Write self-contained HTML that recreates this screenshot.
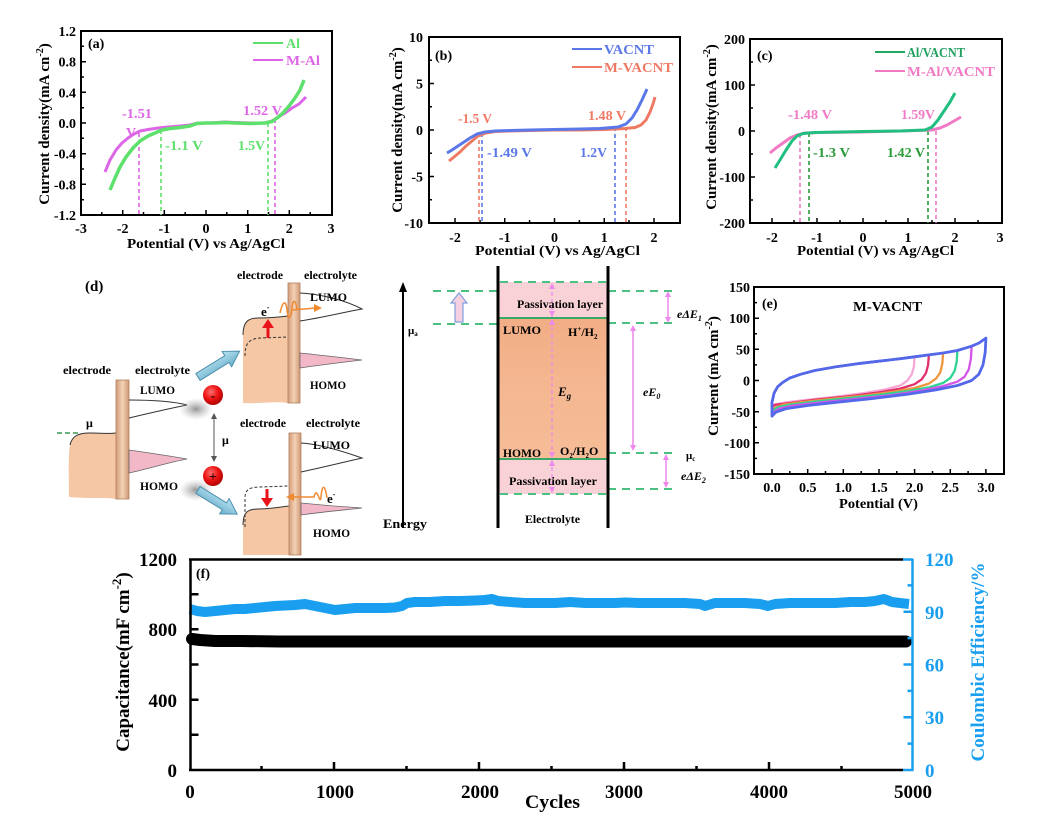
<!DOCTYPE html>
<html><head><meta charset="utf-8"><style>
html,body{margin:0;padding:0;background:#fff;}
svg{display:block;}
text{font-family:"Liberation Serif",serif;font-weight:bold;}
</style></head><body>
<svg width="1061" height="823" viewBox="0 0 1061 823" xmlns="http://www.w3.org/2000/svg">
<defs>
<linearGradient id="bar" x1="0" x2="1" y1="0" y2="0"><stop offset="0" stop-color="#d39c7a"/><stop offset="0.5" stop-color="#f3d2b6"/><stop offset="1" stop-color="#cf9774"/></linearGradient>
<radialGradient id="red" cx="0.4" cy="0.35" r="0.7"><stop offset="0" stop-color="#ff7070"/><stop offset="0.5" stop-color="#ee1515"/><stop offset="1" stop-color="#a80000"/></radialGradient>
<radialGradient id="shd"><stop offset="0" stop-color="#8a8a8a" stop-opacity="0.9"/><stop offset="1" stop-color="#bbb" stop-opacity="0"/></radialGradient>
<linearGradient id="barr" x1="0" x2="0" y1="0" y2="1"><stop offset="0" stop-color="#b9e4f2"/><stop offset="1" stop-color="#6aaecb"/></linearGradient>
<linearGradient id="eg" x1="0" x2="0" y1="0" y2="1"><stop offset="0" stop-color="#f2ad85"/><stop offset="0.5" stop-color="#f4b791"/><stop offset="1" stop-color="#f5bd98"/></linearGradient>
</defs>
<rect width="1061" height="823" fill="#fff"/>

<!-- ================= PANEL A ================= -->
<g>
<rect x="81" y="31" width="251" height="184" fill="none" stroke="#000" stroke-width="2"/>
<g stroke="#000" stroke-width="1.5">
<path d="M122.7,215v-5M164.3,215v-5M206,215v-5M247.7,215v-5M289.3,215v-5"/>
<path d="M101.8,215v-3M143.5,215v-3M185.2,215v-3M226.8,215v-3M268.5,215v-3M310.2,215v-3"/>
<path d="M81,61.7h5M81,92.3h5M81,123h5M81,153.7h5M81,184.3h5"/>
<path d="M81,46.3h3M81,77h3M81,107.7h3M81,138.3h3M81,169h3M81,199.7h3"/>
</g>
<g font-size="14" text-anchor="end">
<text x="76" y="36">1.2</text><text x="76" y="66.7">0.8</text><text x="76" y="97.3">0.4</text><text x="76" y="128">0.0</text><text x="76" y="158.7">-0.4</text><text x="76" y="189.3">-0.8</text><text x="76" y="220">-1.2</text>
</g>
<g font-size="14" text-anchor="middle">
<text x="81" y="233">-3</text><text x="122.7" y="233">-2</text><text x="164.3" y="233">-1</text><text x="206" y="233">0</text><text x="247.7" y="233">1</text><text x="289.3" y="233">2</text><text x="331" y="233">3</text>
</g>
<text x="127" y="248" font-size="14" textLength="158" lengthAdjust="spacingAndGlyphs">Potential (V) vs Ag/AgCl</text>
<text transform="translate(49,124) rotate(-90)" font-size="15" text-anchor="middle">Current density(mA cn<tspan font-size="10" dy="-6">-2</tspan><tspan dy="6">)</tspan></text>
<text x="88" y="48" font-size="14">(a)</text>
<!-- dashed -->
<g stroke-width="1.6" stroke-dasharray="4 3" fill="none">
<path d="M139,133V215" stroke="#dd66e6"/><path d="M161,130V215" stroke="#5ee06c"/>
<path d="M268,123V215" stroke="#5ee06c"/><path d="M275,119V215" stroke="#dd66e6"/>
</g>
<polyline fill="none" stroke="#dd66e6" stroke-width="3" stroke-linejoin="round" points="105,172 110,160 116,150 122,143 128,138 134,134 140,131 148,129.5 158,128 168,127 180,126 190,125 198,123 210,123 225,122 235,122.5 250,123 265,123 272,121 277,118 285,113 292,108 299,104 306,97"/>
<polyline fill="none" stroke="#5ee06c" stroke-width="3.5" stroke-linejoin="round" points="110,190 115,178 120,167 126,157 133,148 140,141 148,136 155,133 162,130 170,128.5 180,127.5 190,126 197,123.5 205,123 215,123 225,122.5 235,123 250,123.5 265,123 272,121.5 277,118 283,113 289,106 295,98 300,90 304,80"/>
<line x1="253" y1="43" x2="283" y2="43" stroke="#5ee06c" stroke-width="2"/>
<text x="286" y="48" font-size="14" fill="#5ee06c">Al</text>
<line x1="253" y1="60" x2="283" y2="60" stroke="#dd66e6" stroke-width="2"/>
<text x="286" y="65" font-size="14" fill="#dd66e6" textLength="34" lengthAdjust="spacingAndGlyphs">M-Al</text>
<text x="122" y="118" font-size="14" fill="#dd66e6" textLength="30" lengthAdjust="spacingAndGlyphs">-1.51</text>
<text x="126" y="137" font-size="14" fill="#dd66e6">V</text>
<text x="165" y="150" font-size="14" fill="#5ee06c" textLength="38" lengthAdjust="spacingAndGlyphs">-1.1 V</text>
<text x="238" y="150" font-size="14" fill="#5ee06c" textLength="27" lengthAdjust="spacingAndGlyphs">1.5V</text>
<text x="243" y="115" font-size="14" fill="#dd66e6" textLength="39" lengthAdjust="spacingAndGlyphs">1.52 V</text>
</g>

<!-- ================= PANEL B ================= -->
<g>
<rect x="429" y="37" width="251" height="186" fill="none" stroke="#000" stroke-width="2"/>
<g stroke="#000" stroke-width="1.5">
<path d="M455,223v-5M504.75,223v-5M554.5,223v-5M604.25,223v-5M654,223v-5"/>
<path d="M480,223v-3M529.6,223v-3M579.4,223v-3M629,223v-3"/>
<path d="M429,83.5h5M429,130h5M429,176.5h5"/>
<path d="M429,60.25h3M429,106.75h3M429,153.25h3M429,199.75h3"/>
</g>
<g font-size="14" text-anchor="end">
<text x="423" y="42">10</text><text x="423" y="88.5">5</text><text x="423" y="135">0</text><text x="423" y="181.5">-5</text><text x="423" y="228">-10</text>
</g>
<g font-size="14" text-anchor="middle">
<text x="455" y="242">-2</text><text x="504.75" y="242">-1</text><text x="554.5" y="242">0</text><text x="604.25" y="242">1</text><text x="654" y="242">2</text>
</g>
<text x="475" y="255" font-size="14" textLength="165" lengthAdjust="spacingAndGlyphs">Potential (V) vs Ag/AgCl</text>
<text transform="translate(402,130) rotate(-90)" font-size="15" text-anchor="middle">Current density(mA cm<tspan font-size="10" dy="-6">-2</tspan><tspan dy="6">)</tspan></text>
<text x="435" y="60" font-size="14">(b)</text>
<g stroke-width="1.6" stroke-dasharray="4 3" fill="none">
<path d="M479,133V223" stroke="#ef7a64"/><path d="M482,133V223" stroke="#5b78e8"/>
<path d="M615,127V223" stroke="#5b78e8"/><path d="M626,127V223" stroke="#ef7a64"/>
</g>
<polyline fill="none" stroke="#ef7a64" stroke-width="3" stroke-linejoin="round" points="449,161 454,157 460,152 466,146 472,141 478,136 486,133 495,131.5 510,131 530,130.5 554,130 580,130 605,129.5 625,128.5 635,127.5 641,125 646,120 650,112 653,104 655,97"/>
<polyline fill="none" stroke="#5b78e8" stroke-width="3" stroke-linejoin="round" points="447,153 452,150 458,146 464,142 470,138 477,134 485,132 495,131 510,130.5 530,130 554,129.5 580,129 600,128.5 618,127 626,124 632,118 637,110 642,100 647,89"/>
<line x1="572" y1="49" x2="602" y2="49" stroke="#5b78e8" stroke-width="2"/>
<text x="604" y="54" font-size="14" fill="#5b78e8" textLength="50" lengthAdjust="spacingAndGlyphs">VACNT</text>
<line x1="572" y1="67" x2="602" y2="67" stroke="#ef7a64" stroke-width="2"/>
<text x="604" y="72" font-size="14" fill="#ef7a64" textLength="69" lengthAdjust="spacingAndGlyphs">M-VACNT</text>
<text x="458" y="123" font-size="14" fill="#ef7a64" textLength="34" lengthAdjust="spacingAndGlyphs">-1.5 V</text>
<text x="487" y="157" font-size="14" fill="#5b78e8" textLength="45" lengthAdjust="spacingAndGlyphs">-1.49 V</text>
<text x="580" y="157" font-size="14" fill="#5b78e8" textLength="27" lengthAdjust="spacingAndGlyphs">1.2V</text>
<text x="588" y="120" font-size="14" fill="#ef7a64" textLength="38" lengthAdjust="spacingAndGlyphs">1.48 V</text>
</g>

<!-- ================= PANEL C ================= -->
<g>
<rect x="750" y="39" width="252" height="184" fill="none" stroke="#000" stroke-width="2"/>
<g stroke="#000" stroke-width="1.5">
<path d="M772,223v-5M817,223v-5M863,223v-5M908,223v-5M955,223v-5"/>
<path d="M794,223v-3M840,223v-3M886,223v-3M932,223v-3M978,223v-3"/>
<path d="M750,85h5M750,131h5M750,177h5"/>
<path d="M750,62h3M750,108h3M750,154h3M750,200h3"/>
</g>
<g font-size="14" text-anchor="end">
<text x="745" y="44">200</text><text x="745" y="90">100</text><text x="745" y="136">0</text><text x="745" y="182">-100</text><text x="745" y="228">-200</text>
</g>
<g font-size="14" text-anchor="middle">
<text x="772" y="242">-2</text><text x="817" y="242">-1</text><text x="863" y="242">0</text><text x="908" y="242">1</text><text x="955" y="242">2</text><text x="1000" y="242">3</text>
</g>
<text x="797" y="255" font-size="14" textLength="157" lengthAdjust="spacingAndGlyphs">Potential (V) vs Ag/AgCl</text>
<text transform="translate(716,127) rotate(-90)" font-size="15" text-anchor="middle">Current density(mA cm<tspan font-size="10" dy="-6">-2</tspan><tspan dy="6">)</tspan></text>
<text x="757" y="60" font-size="14">(c)</text>
<g stroke-width="1.6" stroke-dasharray="4 3" fill="none">
<path d="M800,134V223" stroke="#f07ac4"/><path d="M809,133V223" stroke="#2a9a3a"/>
<path d="M928,131V223" stroke="#2a9a3a"/><path d="M936,131V223" stroke="#f07ac4"/>
</g>
<polyline fill="none" stroke="#f07ac4" stroke-width="3" stroke-linejoin="round" points="770,153 776,148 783,143 790,138 797,135 805,133 820,132.5 860,132 900,131 932,130 940,128 947,125 954,121 961,117"/>
<polyline fill="none" stroke="#20bf80" stroke-width="3" stroke-linejoin="round" points="775,168 780,160 786,150 792,141 797,136 803,133.5 815,132.5 840,132 863,131.5 900,131 925,130 932,127 938,120 944,111 950,102 955,93"/>
<line x1="875" y1="52" x2="905" y2="52" stroke="#20a860" stroke-width="2"/>
<text x="907" y="57" font-size="14" fill="#22a060" textLength="58" lengthAdjust="spacingAndGlyphs">Al/VACNT</text>
<line x1="875" y1="71" x2="905" y2="71" stroke="#f07ac4" stroke-width="2"/>
<text x="907" y="76" font-size="14" fill="#f07ac4" textLength="88" lengthAdjust="spacingAndGlyphs">M-Al/VACNT</text>
<text x="788" y="119" font-size="14" fill="#f07ac4" textLength="44" lengthAdjust="spacingAndGlyphs">-1.48 V</text>
<text x="813" y="157" font-size="14" fill="#2a9a3a" textLength="37" lengthAdjust="spacingAndGlyphs">-1.3 V</text>
<text x="887" y="157" font-size="14" fill="#2a9a3a" textLength="38" lengthAdjust="spacingAndGlyphs">1.42 V</text>
<text x="901" y="119" font-size="14" fill="#f07ac4" textLength="34" lengthAdjust="spacingAndGlyphs">1.59V</text>
</g>

<!-- ================= PANEL D (left schematic) ================= -->
<g>
<text x="85" y="291" font-size="15">(d)</text>
<!-- diagram 1 -->
<text x="63" y="374" font-size="12" textLength="48" lengthAdjust="spacingAndGlyphs">electrode</text>
<text x="135" y="374" font-size="12" textLength="55" lengthAdjust="spacingAndGlyphs">electrolyte</text>
<path d="M69,497 C69,480 68,455 70,445 C72,436 78,433 90,433 C100,433 110,434 116,433 L116,499 C105,497 90,499 69,497 Z" fill="#f6c7a4"/>
<path d="M70,445 C72,436 78,433 90,433 C100,433 110,434 116,433" stroke="#333" fill="none" stroke-width="1"/>
<line x1="57" y1="433" x2="80" y2="433" stroke="#3a9a50" stroke-width="1.5" stroke-dasharray="5 3"/>
<text x="86" y="427" font-size="12">μ</text>
<rect x="116" y="380" width="13" height="119" fill="url(#bar)" stroke="#b08060" stroke-width="0.8"/>
<path d="M129,400 C150,400 172,401 187,405 C172,408 150,413 129,418" fill="none" stroke="#333" stroke-width="1"/>
<path d="M129,450 C150,453 170,456 187,459 C170,462 148,469 129,473 Z" fill="#f3b8c8" stroke="#666" stroke-width="0.8"/>
<text x="140" y="394" font-size="12" textLength="35" lengthAdjust="spacingAndGlyphs">LUMO</text>
<text x="140" y="490" font-size="12" textLength="38" lengthAdjust="spacingAndGlyphs">HOMO</text>

<!-- shadows, circles -->
<ellipse cx="196" cy="409" rx="17" ry="11" fill="url(#shd)"/>
<ellipse cx="196" cy="490" rx="17" ry="11" fill="url(#shd)"/>
<circle cx="213" cy="395" r="10" fill="url(#red)"/>
<text x="213" y="400" font-size="14" text-anchor="middle" fill="#300">-</text>
<circle cx="213" cy="476" r="10" fill="url(#red)"/>
<text x="213" y="481" font-size="14" text-anchor="middle" fill="#300">+</text>
<line x1="214" y1="418" x2="214" y2="457" stroke="#555" stroke-width="1"/>
<polygon points="211,419 217,419 214,413" fill="#555"/>
<polygon points="211,456 217,456 214,462" fill="#555"/>
<text x="222" y="444" font-size="12">μ</text>

<!-- blue arrows -->
<polygon transform="translate(198,377) rotate(-31.8)" points="0,-4 34,-4 34,-9 49,0 34,9 34,4 0,4" fill="url(#barr)" stroke="#4d8fae" stroke-width="1"/>
<polygon transform="translate(198,490) rotate(31.6)" points="0,-4 31,-4 31,-9 46,0 31,9 31,4 0,4" fill="url(#barr)" stroke="#4d8fae" stroke-width="1"/>

<!-- diagram 2 (upper right) -->
<text x="237" y="279" font-size="12" textLength="46" lengthAdjust="spacingAndGlyphs">electrode</text>
<text x="304" y="279" font-size="12" textLength="53" lengthAdjust="spacingAndGlyphs">electrolyte</text>
<path d="M243,403 L243,332 C243,322 248,318 258,318 C270,318 280,317 288,316 L288,403 C275,401 258,404 243,403 Z" fill="#f6c7a4"/>
<path d="M243,335 C243,322 248,318 258,318 C270,318 280,317 288,316" fill="none" stroke="#333" stroke-width="1"/>
<path d="M245,356 C245,343 249,339 260,338 L288,337" fill="none" stroke="#333" stroke-width="1" stroke-dasharray="3 2"/>
<rect x="288" y="283" width="12" height="120" fill="url(#bar)" stroke="#b08060" stroke-width="0.8"/>
<rect x="266.5" y="327" width="3" height="11" fill="#e8141a"/>
<polygon points="262,328 274,328 268,319" fill="#e8141a"/>
<path d="M280,313 C283,300 286,300 287,310 C288,320 291,320 292,308 C293,298 296,300 297,310 M292,310 L316,308" fill="none" stroke="#f08a30" stroke-width="1.5"/>
<polygon points="314,304 322,308 314,312" fill="#f08a30"/>
<text x="261" y="316" font-size="13">e<tspan font-size="8" dy="-6">-</tspan></text>
<path d="M300,293 C320,294 345,300 362,309 C345,312 320,318 300,321" fill="none" stroke="#333" stroke-width="1"/>
<path d="M300,353 C320,355 345,358 362,360 C345,362 320,365 300,368 Z" fill="#f3b8c8" stroke="#666" stroke-width="0.8"/>
<text x="310" y="301" font-size="12" textLength="37" lengthAdjust="spacingAndGlyphs">LUMO</text>
<text x="310" y="389" font-size="12" textLength="36" lengthAdjust="spacingAndGlyphs">HOMO</text>

<!-- diagram 3 (lower right) -->
<text x="240" y="427" font-size="12" textLength="46" lengthAdjust="spacingAndGlyphs">electrode</text>
<text x="306" y="427" font-size="12" textLength="54" lengthAdjust="spacingAndGlyphs">electrolyte</text>
<path d="M243,555 L243,522 C243,512 248,509 258,509 C270,509 280,507 289,506 L289,555 Z" fill="#f6c7a4"/>
<path d="M243,525 C243,512 248,509 258,509 C270,509 280,507 289,506" fill="none" stroke="#333" stroke-width="1"/>
<path d="M245,527 L245,498 C245,490 249,487 260,487 L289,486" fill="none" stroke="#333" stroke-width="1" stroke-dasharray="3 2"/>
<rect x="289" y="433" width="12" height="122" fill="url(#bar)" stroke="#b08060" stroke-width="0.8"/>
<rect x="265.5" y="489" width="3" height="10" fill="#e8141a"/>
<polygon points="261,498 273,498 267,507" fill="#e8141a"/>
<path d="M327,498 C325,484 322,484 321,497 C320,507 317,484 314,497 L292,497" fill="none" stroke="#f08a30" stroke-width="1.5"/>
<polygon points="286,497 294,493 294,501" fill="#f08a30"/>
<text x="327" y="503" font-size="13">e<tspan font-size="8" dy="-6">-</tspan></text>
<path d="M301,443 C320,444 345,452 362,458 C345,462 320,468 301,472" fill="none" stroke="#333" stroke-width="1"/>
<path d="M301,503 C320,505 345,507 362,508 C345,510 320,512 301,515 Z" fill="#f3b8c8" stroke="#666" stroke-width="0.8"/>
<text x="313" y="449" font-size="12" textLength="37" lengthAdjust="spacingAndGlyphs">LUMO</text>
<text x="313" y="537" font-size="12" textLength="37" lengthAdjust="spacingAndGlyphs">HOMO</text>
</g>

<!-- ================= PANEL D (energy diagram) ================= -->
<g>
<rect x="498" y="282" width="110" height="36" fill="#f8d2d6"/>
<rect x="498" y="318" width="110" height="141" fill="url(#eg)"/>
<rect x="498" y="459" width="110" height="35" fill="#f8d2d6"/>
<line x1="498" y1="318" x2="608" y2="318" stroke="#3aa866" stroke-width="2"/>
<line x1="498" y1="459" x2="608" y2="459" stroke="#3aa866" stroke-width="2"/>
<g stroke="#4cc080" stroke-width="2" stroke-dasharray="8 6" fill="none">
<path d="M500,282H608M500,494H608"/>
<path d="M433,291H498M433,324H498"/>
<path d="M608,291H672M608,323H672M608,453H672M608,489H672"/>
</g>
<line x1="552" y1="285" x2="552" y2="492" stroke="#ee88ee" stroke-width="1.3" stroke-dasharray="4 3"/>
<g fill="#ee88ee">
<polygon points="549,289 555,289 552,283"/><polygon points="549,311 555,311 552,317"/>
<polygon points="549,325 555,325 552,319"/><polygon points="549,452 555,452 552,458"/>
<polygon points="549,466 555,466 552,460"/><polygon points="549,487 555,487 552,493"/>
</g>
<line x1="498" y1="266" x2="498" y2="528" stroke="#000" stroke-width="3"/>
<line x1="608" y1="266" x2="608" y2="528" stroke="#000" stroke-width="3"/>
<!-- energy arrow -->
<line x1="403" y1="528" x2="403" y2="290" stroke="#000" stroke-width="2"/>
<polygon points="399,292 407,292 403,282" fill="#000"/>
<text x="383" y="528" font-size="13" textLength="44" lengthAdjust="spacingAndGlyphs">Energy</text>
<text x="408" y="334" font-size="11">μ<tspan font-size="7" dy="2">a</tspan></text>
<polygon points="455,322 463,322 463,303 467,303 459,293 451,303 455,303" fill="#f4d0e0" stroke="#80a0dd" stroke-width="1.2"/>
<text x="517" y="308" font-size="12" textLength="86" lengthAdjust="spacingAndGlyphs">Passivation layer</text>
<text x="509" y="485" font-size="12" textLength="88" lengthAdjust="spacingAndGlyphs">Passivation layer</text>
<text x="503" y="334" font-size="12" textLength="38" lengthAdjust="spacingAndGlyphs">LUMO</text>
<text x="568" y="336" font-size="12">H<tspan font-size="7" dy="-5">+</tspan><tspan dy="5">/H</tspan><tspan font-size="7" dy="3">2</tspan></text>
<text x="558" y="396" font-size="13" font-style="italic">E<tspan font-size="9" dy="3">g</tspan></text>
<text x="503" y="457" font-size="12" textLength="38" lengthAdjust="spacingAndGlyphs">HOMO</text>
<text x="560" y="455" font-size="12">O<tspan font-size="7" dy="3">2</tspan><tspan dy="-3">/H</tspan><tspan font-size="7" dy="3">2</tspan><tspan dy="-3">O</tspan></text>
<text x="525" y="523" font-size="12" textLength="55" lengthAdjust="spacingAndGlyphs">Electrolyte</text>
<!-- right pink arrows -->
<g stroke="#ee88ee" stroke-width="1.5">
<line x1="668" y1="296" x2="668" y2="318"/>
<line x1="633" y1="330" x2="633" y2="446"/>
<line x1="666" y1="459" x2="666" y2="483"/>
</g>
<g fill="#ee88ee">
<polygon points="665,297 671,297 668,291"/><polygon points="665,317 671,317 668,323"/>
<polygon points="630,331 636,331 633,325"/><polygon points="630,445 636,445 633,451"/>
<polygon points="663,460 669,460 666,454"/><polygon points="663,482 669,482 666,488"/>
</g>
<text x="677" y="318" font-size="12" font-style="italic">eΔE<tspan font-size="8" dy="3">1</tspan></text>
<text x="643" y="396" font-size="12" font-style="italic">eE<tspan font-size="8" dy="3">0</tspan></text>
<text x="686" y="459" font-size="11">μ<tspan font-size="7" dy="2">c</tspan></text>
<text x="681" y="480" font-size="12" font-style="italic">eΔE<tspan font-size="8" dy="3">2</tspan></text>
</g>

<!-- ================= PANEL E ================= -->
<g>
<rect x="754" y="287" width="250" height="187" fill="none" stroke="#000" stroke-width="2"/>
<g stroke="#000" stroke-width="1.5">
<path d="M772,474v-5M807.7,474v-5M843.3,474v-5M879,474v-5M914.6,474v-5M950.3,474v-5M985.9,474v-5"/>
<path d="M789.8,474v-3M825.5,474v-3M861.2,474v-3M896.8,474v-3M932.5,474v-3M968.1,474v-3"/>
<path d="M754,318.2h5M754,349.3h5M754,380.5h5M754,411.7h5M754,442.8h5"/>
<path d="M754,302.6h3M754,333.8h3M754,364.9h3M754,396.1h3M754,427.2h3M754,458.4h3"/>
</g>
<g font-size="14" text-anchor="end">
<text x="750" y="292">150</text><text x="750" y="323">100</text><text x="750" y="354.5">50</text><text x="750" y="385.5">0</text><text x="750" y="417">-50</text><text x="750" y="448">-100</text><text x="750" y="479">-150</text>
</g>
<g font-size="14" text-anchor="middle">
<text x="772" y="492">0.0</text><text x="807.7" y="492">0.5</text><text x="843.3" y="492">1.0</text><text x="879" y="492">1.5</text><text x="914.6" y="492">2.0</text><text x="950.3" y="492">2.5</text><text x="986" y="492">3.0</text>
</g>
<text x="839" y="508" font-size="14" textLength="79" lengthAdjust="spacingAndGlyphs">Potential (V)</text>
<text transform="translate(718,376) rotate(-90)" font-size="15" text-anchor="middle">Current (mA cm<tspan font-size="10" dy="-6">-2</tspan><tspan dy="6">)</tspan></text>
<text x="762" y="308" font-size="14">(e)</text>
<text x="853" y="311" font-size="14" textLength="69" lengthAdjust="spacingAndGlyphs">M-VACNT</text>
<g fill="none" stroke-width="2.3" stroke-linejoin="round">
<path stroke="#f6a8d6" d="M772,405.5 L772,402.3 774.1,393 777.7,386.7 782.7,382.4 789.8,378 800.5,374.3 814.8,370.5 836.2,366.8 857.6,363.7 879,361.2 900.3,358.7 914.6,356.8 913.9,366.8 911.7,374.3 907.5,380.5 900.3,385.5 886.1,389.2 864.7,393 836.2,396.7 807.7,399.8 786.3,402.3 775.6,404.2 772,405.5Z"/>
<path stroke="#e2306a" d="M772,406.7 L772,402.3 774.1,393 777.7,386.7 782.7,382.4 789.8,378 800.5,374.3 814.8,370.5 836.2,366.8 857.6,363.7 879,361.2 900.3,358.7 914.6,356.8 928.9,354.9 928.1,364.9 926,373 921.7,379.3 914.6,384.2 900.3,388.6 879,392.4 850.4,396.1 814.8,399.8 789.8,403 775.6,404.8 772,406.7Z"/>
<path stroke="#f0953e" d="M772,409.2 L772,402.3 774.1,393 777.7,386.7 782.7,382.4 789.8,378 800.5,374.3 814.8,370.5 836.2,366.8 857.6,363.7 879,361.2 900.3,358.7 914.6,356.8 928.9,354.9 943.1,353 942.4,363 940.3,372.4 936,378.6 928.9,383.6 914.6,388 893.2,391.7 864.7,395.5 829,399.2 800.5,402.3 782.7,404.8 772,409.2Z"/>
<path stroke="#2fd492" d="M772,411.1 L772,402.3 774.1,393 777.7,386.7 782.7,382.4 789.8,378 800.5,374.3 814.8,370.5 836.2,366.8 857.6,363.7 879,361.2 900.3,358.7 914.6,356.8 928.9,354.9 943.1,353 957.4,350.5 956.7,361.8 954.5,371.1 950.3,378 943.1,383 928.9,387.4 907.5,391.1 879,394.9 843.3,398.6 814.8,401.7 789.8,404.8 777.7,407.3 772,411.1Z"/>
<path stroke="#d455ea" d="M772,413.6 L772,402.3 774.1,393 777.7,386.7 782.7,382.4 789.8,378 800.5,374.3 814.8,370.5 836.2,366.8 857.6,363.7 879,361.2 900.3,358.7 914.6,356.8 928.9,354.9 943.1,353 957.4,350.5 971.6,346.2 970.9,358.7 968.8,369.3 964.5,376.8 957.4,381.7 943.1,386.1 921.7,390.5 893.2,394.9 857.6,398.6 821.9,402.3 793.4,405.5 779.1,408.6 772,413.6Z"/>
<path stroke="#5468ea" stroke-width="2.8" d="M772,416.1 L772,402.3 774.1,393 777.7,386.7 782.7,382.4 789.8,378 800.5,374.3 814.8,370.5 836.2,366.8 857.6,363.7 879,361.2 900.3,358.7 914.6,356.8 928.9,354.9 943.1,353 957.4,350.5 971.6,346.2 978.8,343.1 985.9,338.1 985.2,352.4 983,364.9 978.8,374.3 971.6,380.5 957.4,385.5 936,389.9 907.5,394.2 871.8,398.6 836.2,402.3 807.7,405.5 786.3,408.6 775.6,412.3 772,416.1Z"/>
</g>
</g>

<!-- ================= PANEL F ================= -->
<g>
<polyline fill="none" stroke="#1a9ff0" stroke-width="10" stroke-linejoin="round" points="190,609 197,611 205,612 215,611 225,610 235,609 245,609 255,608 265,607 275,606 285,605.5 295,605 305,604 315,606 325,608 335,610 345,609 355,608 365,608 375,608 385,608 395,607.5 402,606 407,603 415,602 430,602 445,601 460,601 475,600.5 485,600 492,599 498,601 510,602 525,603 540,603 555,603 570,602 585,603 600,603 615,603 625,602.5 640,603 655,603 670,603 685,603 700,604 705,606 715,603 730,603 745,603 760,604 768,606 775,604 790,603 805,603 820,603 835,603 850,602 865,602 875,601 884,599 892,602 900,603 909,604"/>
<polyline fill="none" stroke="#000" stroke-width="12" stroke-linejoin="round" stroke-linecap="round" points="192,639 200,640 215,641 240,641 280,641.5 330,641.5 380,641.5 430,641.5 480,641.5 530,641.5 580,641.5 630,641.5 680,641.5 730,641.5 780,641.5 830,641.5 880,641.5 906,641.5"/>
<g stroke="#000" stroke-width="2.5" fill="none">
<path d="M190.5,559V771M189,559.5H903M189,770H903"/>
</g>
<g stroke="#000" stroke-width="2.5">
<path d="M334,770v-8M479,770v-8M624,770v-8M769,770v-8"/>
<path d="M261.5,770v-4M406.5,770v-4M551.5,770v-4M696.5,770v-4M841.5,770v-4"/>
<path d="M190.5,734.8h8M190.5,699.7h8M190.5,664.5h8M190.5,629.3h8M190.5,594.2h8"/>
</g>
<g stroke="#1a9ff0" stroke-width="2.5" fill="none">
<path d="M912.5,559V771M903,559.5H913M903,770H913"/>
<path d="M912.5,743.6h-5M912.5,717.3h-9M912.5,690.9h-5M912.5,664.5h-9M912.5,638.1h-5M912.5,611.8h-9M912.5,585.4h-5"/>
</g>
<g font-size="19" text-anchor="end">
<text x="177" y="566">1200</text><text x="177" y="636">800</text><text x="177" y="707">400</text><text x="177" y="777">0</text>
</g>
<g font-size="19" text-anchor="middle">
<text x="190" y="798">0</text><text x="335" y="798">1000</text><text x="480" y="798">2000</text><text x="624" y="798">3000</text><text x="769" y="798">4000</text><text x="913" y="798">5000</text>
</g>
<g font-size="19" fill="#1a9ff0">
<text x="925" y="566">120</text><text x="925" y="619">90</text><text x="925" y="671.5">60</text><text x="925" y="724">30</text><text x="925" y="777">0</text>
</g>
<text x="525" y="808" font-size="19" textLength="55" lengthAdjust="spacingAndGlyphs">Cycles</text>
<text x="196" y="578" font-size="14">(f)</text>
<text transform="translate(129,662) rotate(-90)" font-size="19" text-anchor="middle">Capacitance(mF cm<tspan font-size="13" dy="-8">-2</tspan><tspan dy="8">)</tspan></text>
<text transform="translate(984,662) rotate(-90)" font-size="19" text-anchor="middle" fill="#1a9ff0">Coulombic Efficiency/%</text>
</g>
</svg>
</body></html>
